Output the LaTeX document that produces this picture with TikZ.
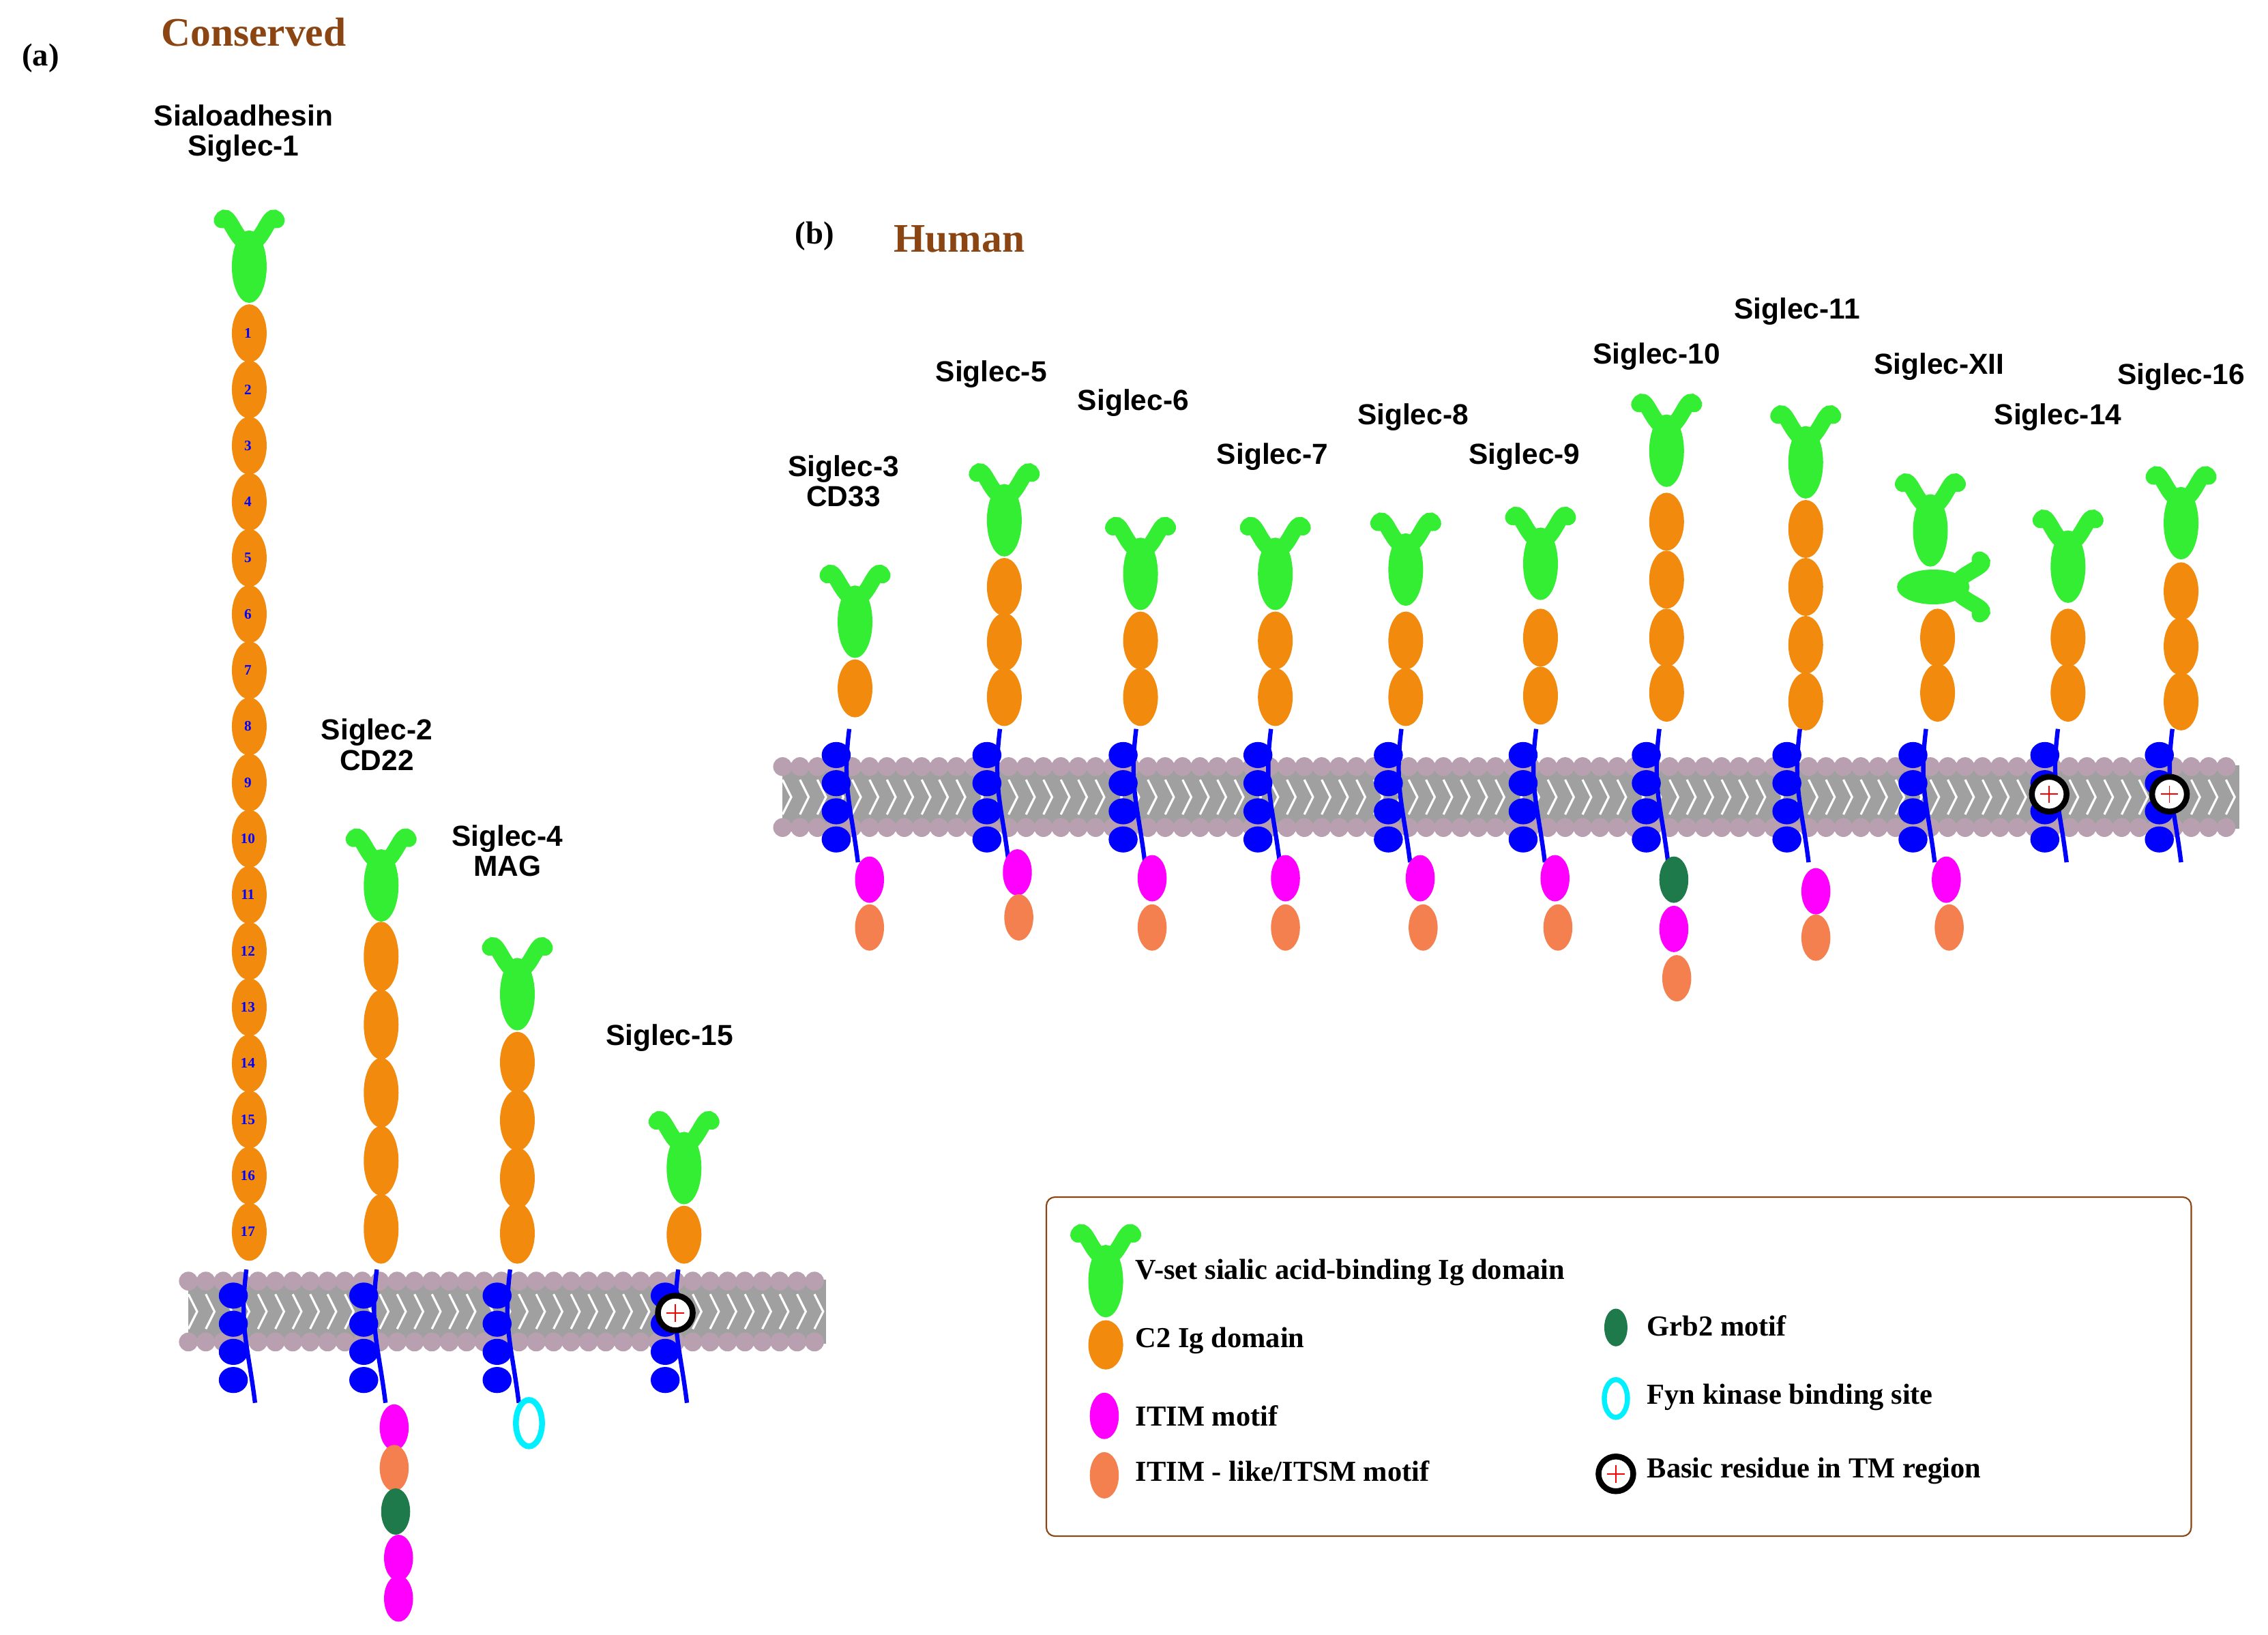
\documentclass[tikz,border=0pt]{standalone}
\usepackage{fontspec}
\setmainfont{Liberation Serif}
\setsansfont{Liberation Sans}
\definecolor{vg}{HTML}{33EE33}
\definecolor{c2}{HTML}{F28A0E}
\definecolor{mag}{HTML}{FF00FF}
\definecolor{sal}{HTML}{F5804F}
\definecolor{dg}{HTML}{1E7A4A}
\definecolor{cy}{HTML}{00F0FF}
\definecolor{br}{HTML}{8B4513}
\definecolor{memb}{HTML}{A0A0A0}
\definecolor{membp}{HTML}{B8A0B0}
\tikzset{lab/.style={font=\sffamily\bfseries\fontsize{20}{24}\selectfont,align=center},
leg/.style={font=\rmfamily\bfseries\fontsize{20}{24}\selectfont,anchor=west},
ttl/.style={font=\rmfamily\bfseries\fontsize{28}{32}\selectfont,text=br},
pl/.style={font=\rmfamily\bfseries\fontsize{22}{26}\selectfont}}
\newcommand\VD[3][0]{\begin{scope}[shift={(#2,#3)},rotate=#1]
\draw[vg,line width=11pt,line cap=round] (-19,4) to[out=60,in=180] (0,20) to[out=0,in=120] (19,4);
\fill[vg] (0,36) ellipse (12 and 25);\end{scope}}
\newcommand\CT[3]{\fill[c2] ({#1},{#2}) ellipse (12 and #3);}
\newcommand\MO[3]{\fill[#3] ({#1},{#2}) ellipse (10 and 16);}
\newcommand\HX[3]{\draw[blue,line width=3pt] (#1+2,#2) .. controls (#1-3,#2+40) and (#1+3,#3-40) .. (#1+8,#3);
\foreach \k in {0,1,2,3}{\fill[blue] (#1-7,{#2+18+\k*(#3-#2-26)/3.4}) ellipse (10 and 9);}}
\newcommand\BR[2]{\draw[black,line width=4pt,fill=white] (#1,#2) circle (12);
\draw[red,line width=0.8pt] (#1-6,#2) -- (#1+6,#2) (#1,#2-6) -- (#1,#2+6);}
\newcommand\MEM[4]{\fill[memb] (#1,#3+5) rectangle (#2,#4-5);
\pgfmathtruncatemacro\nn{(#2-#1)/12}
\foreach \k in {0,...,\nn}{\fill[membp] (#1+\k*12,#3+6) circle (6.5); \fill[membp] (#1+\k*12,#4-6) circle (6.5);
\draw[white,line width=1.5pt] (#1+\k*12,#3+15) -- (#1+\k*12+6,{(#3+#4)/2}) -- (#1+\k*12,#4-15);}}
\begin{document}
\begin{tikzpicture}[x=1pt,y=-1pt]
\useasboundingbox (0,0) rectangle (1565,1128);
\fill[white] (0,0) rectangle (1565,1128);
% titles
\node[pl] (pa) at (28,40) {(a)};
\node[ttl] (tc) at (175,22) {Conserved};
\node[pl] (pb) at (562,163) {(b)};
\node[ttl] (th) at (662,165) {Human};
% membranes
\MEM{130}{570}{878}{932}
\MEM{540}{1545}{523}{577}
% (a)
\node[lab] (l1) at (168,92) {Sialoadhesin\\[-3pt]Siglec-1};
\VD{172}{148}
\foreach \k in {1,...,17}{\CT{172}{230+(\k-1)*38.75}{20}
\node[font=\rmfamily\bfseries\fontsize{10}{11}\selectfont,text=blue] at (171,{230+(\k-1)*38.75}) {\k};}
\HX{168}{876}{968}
\node[lab] (l2) at (260,514) {Siglec-2\\[-3pt]CD22};
\VD{263}{575}
\foreach \y in {660,707,754,801,848}{\CT{263}{\y}{24}}
\HX{258}{876}{968}
\MO{272}{985}{mag}\MO{272}{1013}{sal}\MO{273}{1043}{dg}\MO{275}{1075}{mag}\MO{275}{1103}{mag}
\node[lab] (l4) at (350,587) {Siglec-4\\[-3pt]MAG};
\VD{357}{650}
\foreach \y in {733,773,813,851}{\CT{357}{\y}{21}}
\HX{350}{876}{968}
\draw[cy,line width=4pt,fill=white] (365,982) ellipse (9 and 16);
\node[lab] (l15) at (462,716) {Siglec-15};
\VD{472}{770}
\CT{472}{852}{20}
\HX{466}{876}{968}
\BR{466}{906}
% (b)
\node[lab] (b3) at (582,332) {Siglec-3\\[-3pt]CD33};
\VD{590}{393}\CT{590}{475}{20}\HX{584}{503}{595}\MO{600}{607}{mag}\MO{600}{640}{sal}
\node[lab] (b5) at (684,258) {Siglec-5};
\VD{693}{323}\foreach \y in {405,443,481}{\CT{693}{\y}{20}}\HX{688}{503}{595}\MO{702}{602}{mag}\MO{703}{633}{sal}
\node[lab] (b6) at (782,278) {Siglec-6};
\VD{787}{360}\foreach \y in {442,481}{\CT{787}{\y}{20}}\HX{782}{503}{595}\MO{795}{606}{mag}\MO{795}{640}{sal}
\node[lab] (b7) at (878,315) {Siglec-7};
\VD{880}{360}\foreach \y in {442,481}{\CT{880}{\y}{20}}\HX{875}{503}{595}\MO{887}{606}{mag}\MO{887}{640}{sal}
\node[lab] (b8) at (975,288) {Siglec-8};
\VD{970}{357}\foreach \y in {442,481}{\CT{970}{\y}{20}}\HX{965}{503}{595}\MO{980}{606}{mag}\MO{982}{640}{sal}
\node[lab] (b9) at (1052,315) {Siglec-9};
\VD{1063}{353}\foreach \y in {440,480}{\CT{1063}{\y}{20}}\HX{1058}{503}{595}\MO{1073}{606}{mag}\MO{1075}{640}{sal}
\node[lab] (b10) at (1143,246) {Siglec-10};
\VD{1150}{275}\foreach \y in {360,400,440,478}{\CT{1150}{\y}{20}}\HX{1143}{503}{595}\MO{1155}{607}{dg}\MO{1155}{641}{mag}\MO{1157}{675}{sal}
\node[lab] (b11) at (1240,215) {Siglec-11};
\VD{1246}{283}\foreach \y in {365,405,445,484}{\CT{1246}{\y}{20}}\HX{1240}{503}{595}\MO{1253}{615}{mag}\MO{1253}{647}{sal}
\node[lab] (b12) at (1338,253) {Siglec-XII};
\VD{1332}{330}\VD[-90]{1370}{405}\foreach \y in {440,478}{\CT{1337}{\y}{20}}\HX{1327}{503}{595}\MO{1343}{607}{mag}\MO{1345}{640}{sal}
\node[lab] (b14) at (1420,288) {Siglec-14};
\VD{1427}{355}\foreach \y in {440,478}{\CT{1427}{\y}{20}}\HX{1418}{503}{595}\BR{1414}{548}
\node[lab] (b16) at (1505,260) {Siglec-16};
\VD{1505}{325}\foreach \y in {408,446,484}{\CT{1505}{\y}{20}}\HX{1497}{503}{595}\BR{1497}{548}
% legend
\draw[br,line width=1pt,rounded corners=6pt] (722,826) rectangle (1512,1060);
\VD{763}{848}\node[leg] (t1) at (780,878) {V-set sialic acid-binding Ig domain};
\CT{763}{928}{17}\node[leg] (t2) at (780,925) {C2 Ig domain};
\MO{762}{977}{mag}\node[leg] (t3) at (780,977) {ITIM motif};
\MO{762}{1018}{sal}\node[leg] (t4) at (780,1015) {ITIM - like/ITSM motif};
\fill[dg] (1115,916) ellipse (8 and 13);\node[leg] (t5) at (1133,915) {Grb2 motif};
\draw[cy,line width=3.5pt,fill=white] (1115,965) ellipse (8 and 13);\node[leg] (t6) at (1133,964) {Fyn kinase binding site};
\BR{1115}{1017}\node[leg] (t7) at (1133,1015) {Basic residue in TM region};
\end{tikzpicture}
\end{document}
